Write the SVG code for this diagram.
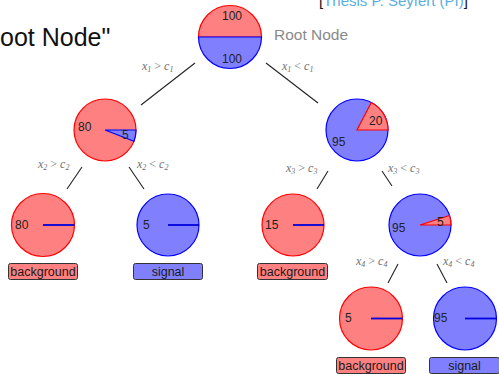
<svg xmlns="http://www.w3.org/2000/svg" width="499" height="374" viewBox="0 0 499 374">
  <style>
    .bg { fill: #ffffff; }
    .rf { fill: #ff8080; stroke: #ff0000; stroke-width: 1.2; }
    .bf { fill: #8080ff; stroke: #0000ff; stroke-width: 1.2; }
    .zero { stroke: #0000dd; stroke-width: 1.8; }
    .num { font-family: "Liberation Sans", Arial, sans-serif; font-size: 12px; fill: #222; }
    .edge { stroke: #222; stroke-width: 1.1; fill: none; }
    .cond { font-family: "Liberation Serif", "Times New Roman", serif; font-style: italic; font-size: 12px; fill: #707070; }
    .cond .op { font-style: normal; }
    .cond .sub { font-size: 8px; }
    .box-r { fill: #ff8080; stroke: #333; stroke-width: 1; }
    .box-b { fill: #8080ff; stroke: #333; stroke-width: 1; }
    .cls { font-family: "Liberation Sans", Arial, sans-serif; font-size: 12.5px; fill: #1a1a1a; text-anchor: middle; }
  </style>

  <rect class="bg" x="0" y="0" width="499" height="374"/>

  <!-- slide title and citation -->
  <text x="0" y="46" font-family="Liberation Sans, Arial, sans-serif" font-size="25" fill="#111">oot Node"</text>
  <text x="319" y="6" font-family="Liberation Sans, Arial, sans-serif" font-size="15"><tspan fill="#111">[</tspan><tspan fill="#5aaee0">Thesis P. Seyfert (PI)</tspan><tspan fill="#111">]</tspan></text>
  <text x="274" y="40" font-family="Liberation Sans, Arial, sans-serif" font-size="15.5" fill="#8a8a8a">Root Node</text>

  <!-- connectors with split conditions -->
  <g id="connectors">
    <line class="edge" x1="195" y1="63" x2="141" y2="105"/>
    <line class="edge" x1="266" y1="63" x2="318" y2="103"/>
    <line class="edge" x1="82" y1="167" x2="67" y2="189"/>
    <line class="edge" x1="129" y1="167" x2="144" y2="189"/>
    <line class="edge" x1="328" y1="171" x2="317" y2="189"/>
    <line class="edge" x1="382" y1="171" x2="392" y2="186"/>
    <line class="edge" x1="398" y1="264" x2="388" y2="283"/>
    <line class="edge" x1="437" y1="264" x2="447" y2="283"/>

    <text class="cond" x="142" y="70">x<tspan class="sub" dy="2">1</tspan><tspan class="op" dy="-2"> &gt; </tspan>c<tspan class="sub" dy="2">1</tspan></text>
    <text class="cond" x="282" y="70">x<tspan class="sub" dy="2">1</tspan><tspan class="op" dy="-2"> &lt; </tspan>c<tspan class="sub" dy="2">1</tspan></text>
    <text class="cond" x="38" y="168">x<tspan class="sub" dy="2">2</tspan><tspan class="op" dy="-2"> &gt; </tspan>c<tspan class="sub" dy="2">2</tspan></text>
    <text class="cond" x="137" y="168">x<tspan class="sub" dy="2">2</tspan><tspan class="op" dy="-2"> &lt; </tspan>c<tspan class="sub" dy="2">2</tspan></text>
    <text class="cond" x="286" y="172">x<tspan class="sub" dy="2">3</tspan><tspan class="op" dy="-2"> &gt; </tspan>c<tspan class="sub" dy="2">3</tspan></text>
    <text class="cond" x="388" y="172">x<tspan class="sub" dy="2">3</tspan><tspan class="op" dy="-2"> &lt; </tspan>c<tspan class="sub" dy="2">3</tspan></text>
    <text class="cond" x="356" y="265">x<tspan class="sub" dy="2">4</tspan><tspan class="op" dy="-2"> &gt; </tspan>c<tspan class="sub" dy="2">4</tspan></text>
    <text class="cond" x="443" y="265">x<tspan class="sub" dy="2">4</tspan><tspan class="op" dy="-2"> &lt; </tspan>c<tspan class="sub" dy="2">4</tspan></text>
  </g>

  <!-- root: 100 background / 100 signal -->
  <g id="root">
    <path class="rf" d="M198.5,37 A31.5,31.5 0 0 1 261.5,37 Z"/>
    <path class="bf" d="M198.5,37 A31.5,31.5 0 0 0 261.5,37 Z"/>
    <text class="num" x="222" y="20">100</text>
    <text class="num" x="222" y="63">100</text>
  </g>

  <!-- left split: 80 background / 5 signal -->
  <g id="node-l">
    <circle class="rf" cx="105" cy="130" r="31"/>
    <path class="bf" d="M105,130 L136,130 A31,31 0 0 1 133.9,141.2 Z"/>
    <text class="num" x="78" y="131">80</text>
    <text class="num" x="122" y="139">5</text>
  </g>

  <!-- right split: 20 background / 95 signal -->
  <g id="node-r">
    <circle class="bf" cx="357" cy="130" r="31"/>
    <path class="rf" d="M357,130 L388,130 A31,31 0 0 0 371.3,102.5 Z"/>
    <text class="num" x="369" y="125">20</text>
    <text class="num" x="332" y="146">95</text>
  </g>

  <!-- leaf: 80 background -->
  <g id="leaf-ll">
    <circle class="rf" cx="43" cy="225" r="31.5"/>
    <line class="zero" x1="43" y1="225" x2="74.5" y2="225"/>
    <text class="num" x="15" y="229">80</text>
    <rect class="box-r" x="8.5" y="263.5" width="69" height="16" rx="2"/>
    <text class="cls" x="43" y="276">background</text>
  </g>

  <!-- leaf: 5 signal -->
  <g id="leaf-lr">
    <circle class="bf" cx="168" cy="225" r="31"/>
    <line class="zero" x1="168" y1="225" x2="199" y2="225"/>
    <text class="num" x="143" y="229">5</text>
    <rect class="box-b" x="133.5" y="263.5" width="69" height="16" rx="2"/>
    <text class="cls" x="168" y="276">signal</text>
  </g>

  <!-- leaf: 15 background -->
  <g id="leaf-rl">
    <circle class="rf" cx="293" cy="225" r="31"/>
    <line class="zero" x1="293" y1="225" x2="324" y2="225"/>
    <text class="num" x="265" y="229">15</text>
    <rect class="box-r" x="257.5" y="263.5" width="70" height="16" rx="2"/>
    <text class="cls" x="292.5" y="276">background</text>
  </g>

  <!-- split: 5 background / 95 signal -->
  <g id="node-rr">
    <circle class="bf" cx="420" cy="225" r="31"/>
    <path class="rf" d="M420,225 L451,225 A31,31 0 0 0 449.5,215.4 Z"/>
    <text class="num" x="392" y="232">95</text>
    <text class="num" x="437" y="226">5</text>
  </g>

  <!-- leaf: 5 background -->
  <g id="leaf-rrl">
    <circle class="rf" cx="371" cy="318.5" r="31.5"/>
    <line class="zero" x1="371" y1="318.5" x2="402.5" y2="318.5"/>
    <text class="num" x="345" y="322">5</text>
    <rect class="box-r" x="336.5" y="357.5" width="69" height="16" rx="2"/>
    <text class="cls" x="371" y="370">background</text>
  </g>

  <!-- leaf: 95 signal -->
  <g id="leaf-rrr">
    <circle class="bf" cx="465" cy="318.5" r="31.5"/>
    <line class="zero" x1="465" y1="318.5" x2="496.5" y2="318.5"/>
    <text class="num" x="434" y="322">95</text>
    <rect class="box-b" x="429.5" y="357.5" width="70" height="16" rx="2"/>
    <text class="cls" x="464.5" y="370">signal</text>
  </g>
</svg>
